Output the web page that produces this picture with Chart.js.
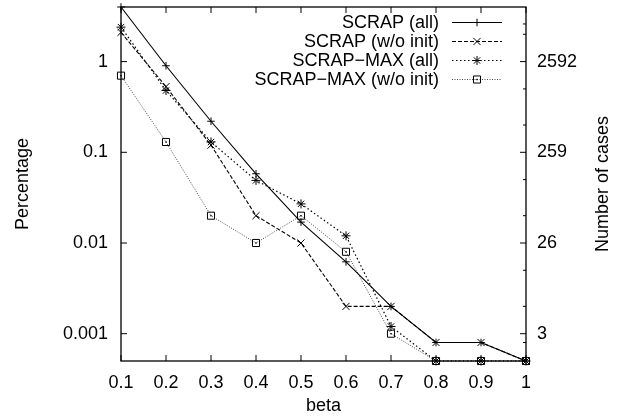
<!DOCTYPE html>
<html><head><meta charset="utf-8">
<script src="https://cdn.jsdelivr.net/npm/chart.js@4.4.0/dist/chart.umd.min.js"></script>
<style>html,body{margin:0;padding:0;background:#fff}</style>
</head><body><canvas id="c" width="629" height="419" style="width:629px;height:419px;display:block"></canvas>
<script>
const betas = [0.1, 0.2, 0.3, 0.4, 0.5, 0.6, 0.7, 0.8, 0.9, 1];
const scrapAll       = [4.0, 0.9, 0.22, 0.058, 0.017, 0.0062, 0.002, 0.0008, 0.0008, 0.0005];
const scrapNoInit    = [2.1, 0.53, 0.12, 0.02, 0.01, 0.002, 0.002, 0.0008, 0.0008, 0.0005];
const scrapMaxAll    = [2.4, 0.48, 0.13, 0.049, 0.027, 0.012, 0.0012, 0.0005, 0.0005, 0.0005];
const scrapMaxNoInit = [0.7, 0.13, 0.02, 0.01, 0.02, 0.008, 0.001, 0.0005, 0.0005, 0.0005];
const seriesNames = ['SCRAP (all)', 'SCRAP (w/o init)', 'SCRAP\u2212MAX (all)', 'SCRAP\u2212MAX (w/o init)'];
const xTickValues = [0.1, 0.2, 0.3, 0.4, 0.5, 0.6, 0.7, 0.8, 0.9, 1];
const xTickLabels = ['0.1', '0.2', '0.3', '0.4', '0.5', '0.6', '0.7', '0.8', '0.9', '1'];
const yTickValues = [0.001, 0.01, 0.1, 1];
const yTickLabels = ['0.001', '0.01', '0.1', '1'];
const y2TickLabels = ['3', '26', '259', '2592'];
const y2MinorValues = [0.0008, 0.002, 0.005, 0.02, 0.05, 0.2, 0.5, 2, 2.6];

const FONT = "'Liberation Sans', Arial, sans-serif";
const pts = arr => betas.map((b, i) => ({x: b, y: arr[i]}));

const styles = [
  {dash: [], style: 'cross', r: 3.8, color: '#000', width: 1.1},
  {dash: [4, 2], style: 'crossRot', r: 5, color: '#000', width: 1.1},
  {dash: [1.5, 2.5], style: 'star', r: 4.5, color: '#000', width: 1.2},
  {dash: [1, 1.5], style: 'rect', r: 5, color: '#444', width: 1},
];
const seriesData = [scrapAll, scrapNoInit, scrapMaxAll, scrapMaxNoInit];

const datasets = seriesData.map((arr, i) => ({
  label: seriesNames[i],
  data: pts(arr),
  borderColor: styles[i].color,
  borderWidth: styles[i].width,
  borderDash: styles[i].dash,
  pointStyle: styles[i].style,
  pointRadius: styles[i].r,
  pointBorderColor: '#000',
  pointBackgroundColor: 'rgba(0,0,0,0)',
  pointBorderWidth: 1,
  fill: false,
  tension: 0,
  clip: false,
  yAxisID: 'y'
}));

const noPad = s => { s.paddingTop = 0; s.paddingBottom = 0; s.paddingLeft = 0; s.paddingRight = 0; };

const decor = {
  id: 'decor',
  afterDatasetsDraw(chart) {
    const ctx = chart.ctx;
    const meta = chart.getDatasetMeta(3);
    ctx.save();
    ctx.fillStyle = '#000';
    meta.data.forEach(p => ctx.fillRect(p.x - 0.7, p.y - 0.7, 1.4, 1.4));
    ctx.restore();
  },
  afterDraw(chart) {
    const {ctx, chartArea: a, scales} = chart;
    ctx.save();
    ctx.strokeStyle = '#000';
    ctx.lineWidth = 1.3;
    ctx.setLineDash([]);
    ctx.strokeRect(a.left, a.top, a.right - a.left, a.bottom - a.top);
    ctx.lineWidth = 1;
    ctx.beginPath();
    xTickValues.forEach(v => {
      const px = scales.x.getPixelForValue(v);
      ctx.moveTo(px, a.bottom); ctx.lineTo(px, a.bottom - 6);
      ctx.moveTo(px, a.top); ctx.lineTo(px, a.top + 6);
    });
    yTickValues.forEach(v => {
      const py = scales.y.getPixelForValue(v);
      ctx.moveTo(a.left, py); ctx.lineTo(a.left + 6, py);
      ctx.moveTo(a.right, py); ctx.lineTo(a.right - 6, py);
    });
    y2MinorValues.forEach(v => {
      const py = scales.y2.getPixelForValue(v);
      ctx.moveTo(a.right, py); ctx.lineTo(a.right - 3, py);
    });
    ctx.stroke();

    // right axis title, reading bottom to top
    ctx.save();
    ctx.translate(603, (a.top + a.bottom) / 2);
    ctx.rotate(-Math.PI / 2);
    ctx.font = '18px ' + FONT;
    ctx.fillStyle = '#000';
    ctx.textAlign = 'center';
    ctx.textBaseline = 'middle';
    ctx.fillText('Number of cases', 0, 0);
    ctx.restore();

    // legend
    ctx.font = '18px ' + FONT;
    ctx.textBaseline = 'middle';
    ctx.textAlign = 'right';
    chart.data.datasets.forEach((ds, i) => {
      const y = 22.5 + i * 19;
      ctx.fillStyle = '#000';
      ctx.fillText(ds.label, 439, y + 1);
      ctx.strokeStyle = ds.borderColor;
      ctx.lineWidth = ds.borderWidth;
      ctx.setLineDash(ds.borderDash);
      ctx.beginPath();
      ctx.moveTo(452, y); ctx.lineTo(502, y);
      ctx.stroke();
      ctx.setLineDash([]);
      ctx.strokeStyle = '#000';
      ctx.fillStyle = 'rgba(0,0,0,0)';
      ctx.lineWidth = 1;
      Chart.helpers.drawPoint(ctx, {pointStyle: ds.pointStyle, radius: ds.pointRadius, rotation: 0, borderWidth: 1}, 477, y);
      if (i === 3) { ctx.fillStyle = '#000'; ctx.fillRect(476.3, y - 0.7, 1.4, 1.4); }
    });
    ctx.restore();
  }
};

new Chart(document.getElementById('c'), {
  type: 'line',
  data: {datasets},
  options: {
    responsive: false,
    devicePixelRatio: 1,
    animation: false,
    layout: {padding: {top: 7, left: 0, right: 0, bottom: 0}},
    plugins: {legend: {display: false}, tooltip: {enabled: false}},
    scales: {
      x: {
        type: 'linear', min: 0.1, max: 1,
        afterBuildTicks: s => { s.ticks = xTickValues.map(v => ({value: v})); },
        afterFit: s => { s.height = 58; noPad(s); },
        grid: {display: false, drawTicks: false},
        border: {display: false},
        ticks: {
          font: {family: FONT, size: 18}, color: '#000', padding: 11, maxRotation: 0, autoSkip: false,
          callback: (v, i) => xTickLabels[i]
        },
        title: {display: true, text: 'beta', font: {family: FONT, size: 18}, color: '#000', padding: {top: 0, bottom: 2}}
      },
      y: {
        type: 'logarithmic', position: 'left', min: 0.0005, max: 4,
        afterBuildTicks: s => { s.ticks = yTickValues.map(v => ({value: v})); },
        afterFit: s => { s.width = 121; noPad(s); },
        grid: {display: false, drawTicks: false},
        border: {display: false},
        ticks: {
          font: {family: FONT, size: 18}, color: '#000', padding: 13, autoSkip: false,
          callback: (v, i) => yTickLabels[i]
        },
        title: {display: true, text: 'Percentage', font: {family: FONT, size: 18}, color: '#000', padding: {top: 12, bottom: 0}}
      },
      y2: {
        type: 'logarithmic', position: 'right', min: 0.0005, max: 4,
        afterBuildTicks: s => { s.ticks = yTickValues.map(v => ({value: v})); },
        afterFit: s => { s.width = 103; noPad(s); },
        grid: {display: false, drawTicks: false},
        border: {display: false},
        ticks: {
          font: {family: FONT, size: 18}, color: '#000', padding: 11, autoSkip: false,
          callback: (v, i) => y2TickLabels[i]
        },
        title: {display: false}
      }
    }
  },
  plugins: [decor]
});
</script>
</body></html>
